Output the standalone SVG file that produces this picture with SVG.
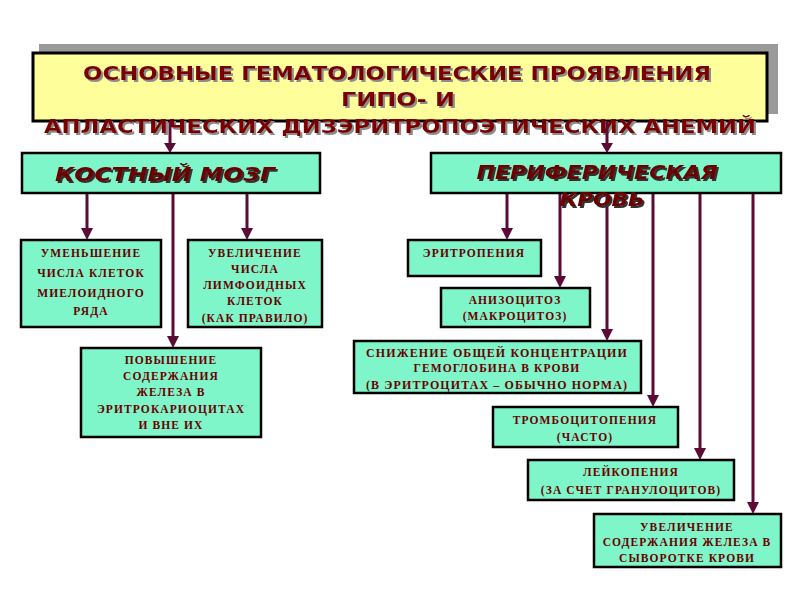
<svg xmlns="http://www.w3.org/2000/svg" width="800" height="600" viewBox="0 0 800 600">
<defs>
<filter id="sh" x="-5%" y="-30%" width="110%" height="160%">
<feFlood flood-color="#8c8c8c" result="c"/>
<feComposite in="c" in2="SourceAlpha" operator="in" result="s"/>
<feOffset in="s" dx="2" dy="2" result="o"/>
<feMerge><feMergeNode in="o"/><feMergeNode in="SourceGraphic"/></feMerge>
</filter>
<filter id="sh2" x="-5%" y="-30%" width="110%" height="160%">
<feFlood flood-color="#333" result="c"/>
<feComposite in="c" in2="SourceAlpha" operator="in" result="s"/>
<feOffset in="s" dx="2" dy="2" result="o"/>
<feMerge><feMergeNode in="o"/><feMergeNode in="SourceGraphic"/></feMerge>
</filter>
</defs>
<style>
.box{fill:#7ff6c9;stroke:#000;stroke-width:2.5}
.bt{font-family:"Liberation Serif","Times New Roman",serif;font-weight:bold;font-size:11.5px;fill:#6a0000;text-anchor:middle;letter-spacing:1.1px}
.tt{font-family:"DejaVu Sans",Verdana,sans-serif;font-weight:bold;font-size:20px;fill:#7a0000;text-anchor:middle}
.ht{font-family:"DejaVu Sans",Verdana,sans-serif;font-weight:bold;font-style:italic;font-size:20px;fill:#6a0000;text-anchor:middle}
.ln{stroke:#5c0a36;stroke-width:3;fill:none}
.ah{fill:#5c0a36}
</style>
<rect width="800" height="600" fill="#fff"/>
<g id="title">
<rect x="39" y="44" width="739" height="70" fill="#9a9a9a"/>
<rect x="33" y="53" width="734" height="68" fill="#fefe9a" stroke="#000" stroke-width="3"/>
<g filter="url(#sh)">
<text class="tt" x="397" y="80" textLength="628" lengthAdjust="spacingAndGlyphs">ОСНОВНЫЕ  ГЕМАТОЛОГИЧЕСКИЕ  ПРОЯВЛЕНИЯ</text>
<text class="tt" x="398" y="106" textLength="114" lengthAdjust="spacingAndGlyphs">ГИПО-  И</text>
<text class="tt" x="400" y="133" textLength="712" lengthAdjust="spacingAndGlyphs">АПЛАСТИЧЕСКИХ  ДИЗЭРИТРОПОЭТИЧЕСКИХ  АНЕМИЙ</text>
</g>
</g>
<g id="connectors">
<line class="ln" x1="170" y1="121" x2="170" y2="145"/>
<path class="ah" d="M164,143 L176,143 L170,153 Z"/>
<line class="ln" x1="607" y1="121" x2="607" y2="145"/>
<path class="ah" d="M601,143 L613,143 L607,153 Z"/>
<line class="ln" x1="87" y1="193" x2="87" y2="230"/>
<path class="ah" d="M81,228 L93,228 L87,240 Z"/>
<line class="ln" x1="247" y1="193" x2="247" y2="230"/>
<path class="ah" d="M241,228 L253,228 L247,240 Z"/>
<line class="ln" x1="173" y1="193" x2="173" y2="338"/>
<path class="ah" d="M167,336 L179,336 L173,348 Z"/>
<line class="ln" x1="507" y1="193" x2="507" y2="230"/>
<path class="ah" d="M501,228 L513,228 L507,240 Z"/>
<line class="ln" x1="560" y1="193" x2="560" y2="278"/>
<path class="ah" d="M554,276 L566,276 L560,288 Z"/>
<line class="ln" x1="607" y1="193" x2="607" y2="331"/>
<path class="ah" d="M601,329 L613,329 L607,341 Z"/>
<line class="ln" x1="653" y1="193" x2="653" y2="397"/>
<path class="ah" d="M647,395 L659,395 L653,407 Z"/>
<line class="ln" x1="700" y1="193" x2="700" y2="450"/>
<path class="ah" d="M694,448 L706,448 L700,460 Z"/>
<line class="ln" x1="753" y1="193" x2="753" y2="504"/>
<path class="ah" d="M747,502 L759,502 L753,514 Z"/>
</g>
<g id="bone-marrow">
<rect class="box" x="22" y="153" width="298" height="40"/>
<text class="ht" x="165" y="181" textLength="220" lengthAdjust="spacingAndGlyphs" filter="url(#sh2)">КОСТНЫЙ   МОЗГ</text>
</g>
<g id="peripheral-blood">
<rect class="box" x="431" y="153" width="350" height="40"/>
<g filter="url(#sh2)">
<text class="ht" x="597" y="179" textLength="241" lengthAdjust="spacingAndGlyphs">ПЕРИФЕРИЧЕСКАЯ</text>
<text class="ht" x="602" y="206" textLength="85" lengthAdjust="spacingAndGlyphs">КРОВЬ</text>
</g>
</g>
<g id="myeloid">
<rect class="box" x="21" y="240" width="140" height="87"/>
<text class="bt" x="91" y="257">УМЕНЬШЕНИЕ</text>
<text class="bt" x="91" y="277">ЧИСЛА  КЛЕТОК</text>
<text class="bt" x="91" y="297">МИЕЛОИДНОГО</text>
<text class="bt" x="91" y="315">РЯДА</text>
</g>
<g id="lymphoid">
<rect class="box" x="188" y="240" width="134" height="87"/>
<text class="bt" x="255" y="257">УВЕЛИЧЕНИЕ</text>
<text class="bt" x="255" y="273">ЧИСЛА</text>
<text class="bt" x="255" y="289">ЛИМФОИДНЫХ</text>
<text class="bt" x="255" y="305">КЛЕТОК</text>
<text class="bt" x="255" y="322">(КАК ПРАВИЛО)</text>
</g>
<g id="iron-erythro">
<rect class="box" x="81" y="348" width="180" height="89"/>
<text class="bt" x="171" y="364">ПОВЫШЕНИЕ</text>
<text class="bt" x="171" y="380">СОДЕРЖАНИЯ</text>
<text class="bt" x="171" y="396">ЖЕЛЕЗА   В</text>
<text class="bt" x="171" y="413">ЭРИТРОКАРИОЦИТАХ</text>
<text class="bt" x="171" y="429">И   ВНЕ   ИХ</text>
</g>
<g id="erythropenia">
<rect class="box" x="408" y="240" width="133" height="36"/>
<text class="bt" x="474" y="257">ЭРИТРОПЕНИЯ</text>
</g>
<g id="anisocytosis">
<rect class="box" x="441" y="288" width="149" height="39"/>
<text class="bt" x="515" y="304">АНИЗОЦИТОЗ</text>
<text class="bt" x="515" y="320">(МАКРОЦИТОЗ)</text>
</g>
<g id="hemoglobin">
<rect class="box" x="354" y="341" width="287" height="52"/>
<text class="bt" x="497" y="357" textLength="262" lengthAdjust="spacingAndGlyphs">СНИЖЕНИЕ  ОБЩЕЙ КОНЦЕНТРАЦИИ</text>
<text class="bt" x="497" y="372">ГЕМОГЛОБИНА В  КРОВИ</text>
<text class="bt" x="497" y="389" textLength="262" lengthAdjust="spacingAndGlyphs">(В  ЭРИТРОЦИТАХ – ОБЫЧНО  НОРМА)</text>
</g>
<g id="thrombocytopenia">
<rect class="box" x="493" y="407" width="185" height="40"/>
<text class="bt" x="585" y="424">ТРОМБОЦИТОПЕНИЯ</text>
<text class="bt" x="585" y="441">(ЧАСТО)</text>
</g>
<g id="leukopenia">
<rect class="box" x="528" y="460" width="206" height="40"/>
<text class="bt" x="631" y="476">ЛЕЙКОПЕНИЯ</text>
<text class="bt" x="631" y="494">(ЗА СЧЕТ ГРАНУЛОЦИТОВ)</text>
</g>
<g id="serum-iron">
<rect class="box" x="594" y="514" width="187" height="53"/>
<text class="bt" x="687" y="531">УВЕЛИЧЕНИЕ</text>
<text class="bt" x="687" y="546">СОДЕРЖАНИЯ ЖЕЛЕЗА В</text>
<text class="bt" x="687" y="562">СЫВОРОТКЕ КРОВИ</text>
</g>
</svg>
